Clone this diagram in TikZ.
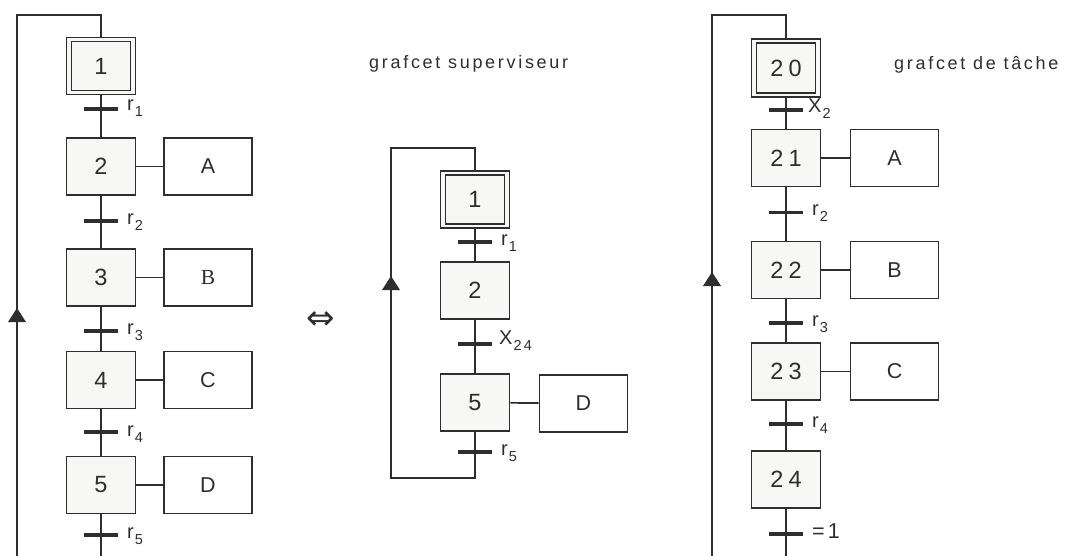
\documentclass[tikz,border=0pt]{standalone}
\usepackage{fontspec}
\setmainfont{Liberation Sans}[LetterSpace=15]
\newfontfamily\numface{Liberation Sans}[LetterSpace=22]
\newfontfamily\serifface{Liberation Serif}
\newfontfamily\symface{DejaVu Sans}
\usetikzlibrary{calc}
\definecolor{ink}{HTML}{2E2E2E}
\definecolor{stepfill}{HTML}{F7F7F5}
% subscript of a receptivity
\newcommand\tsub[1]{\kern1pt\raisebox{-6pt}{\fontsize{14.5}{14.5}\selectfont#1}}

\begin{document}
\begin{tikzpicture}[x=1pt,y=-1pt,
  ln/.style={draw=ink, line width=1.7pt},
  stepbox/.style={draw=ink, line width=1.8pt, fill=stepfill, minimum width=69pt,
    minimum height=57pt, inner sep=0pt, text=ink, font=\numface\fontsize{23.5}{23.5}\selectfont},
  actbox/.style={draw=ink, line width=1.8pt, fill=white, minimum width=88pt,
    minimum height=57pt, inner sep=0pt, text=ink, font=\fontsize{21.5}{21.5}\selectfont},
  tbar/.style={draw=ink, line width=3.6pt},
  tlab/.style={anchor=base west, inner sep=0pt, text=ink, font=\fontsize{20}{20}\selectfont},
  title/.style={anchor=base west, inner sep=0pt, text=ink, font=\fontsize{18}{18}\selectfont},
  arrowhead/.style={fill=ink}
]
\useasboundingbox (0,0) rectangle (1067,556);

% ---------------- linear grafcet ----------------
\node[stepbox] (a1) at (101,66) {1\hspace{2pt}};
\draw[ln] ($(a1.north west)+(6,5)$) rectangle ($(a1.south east)+(-6,-5)$);
\node[stepbox] (a2) at (101,166.5) {2\hspace{2pt}};
\node[stepbox] (a3) at (101,277.5) {3\hspace{2pt}};
\node[stepbox] (a4) at (101,380) {4\hspace{2pt}};
\node[stepbox] (a5) at (101,485) {5\hspace{2pt}};
\node[actbox] (b2) at (208,166.5) {A\hspace{13pt}};
\node[actbox] (b3) at (208,277.5) {{\serifface B}\hspace{13pt}};
\node[actbox] (b4) at (208,380) {C\hspace{16pt}};
\node[actbox] (b5) at (208,485) {D\hspace{16pt}};
\coordinate (ta1) at (101,109);
\coordinate (ta2) at (101,221);
\coordinate (ta3) at (101,331);
\coordinate (ta4) at (101,432);
\coordinate (ta5) at (101,535);
\coordinate (abot) at (101,556);
\coordinate (aloopb) at (17,556);
\coordinate (aloopt) at (17,15);
\coordinate (aarr) at (17,315);

\draw[ln] (a1) -- (a2);
\draw[ln] (a2) -- (a3);
\draw[ln] (a3) -- (a4);
\draw[ln] (a4) -- (a5);
\draw[ln] (a5) -- (abot);
\draw[ln] (a2) -- (b2);
\draw[ln] (a3) -- (b3);
\draw[ln] (a4) -- (b4);
\draw[ln] (a5) -- (b5);
\draw[ln] (aloopb) -- (aloopt) -| (a1.north);
\fill[arrowhead] (aarr) +(0,-7) -- +(-9,7) -- +(9,7) -- cycle;

\foreach \t in {ta1,ta2,ta3,ta4,ta5}
  \draw[tbar] ([xshift=-17pt]\t) -- ([xshift=17pt]\t);
\node[tlab] (la1) at ([xshift=26pt,yshift=-2pt]ta1) {r\tsub{1}};
\node[tlab] (la2) at ([xshift=26pt,yshift=-3pt]ta2) {r\tsub{2}};
\node[tlab] (la3) at ([xshift=26pt,yshift=-3pt]ta3) {r\tsub{3}};
\node[tlab] (la4) at ([xshift=26pt,yshift=-4pt]ta4) {r\tsub{4}};
\node[tlab] (la5) at ([xshift=26pt,yshift=-3pt]ta5) {r\tsub{5}};

\node (eq) at (321,321) {\symface\fontsize{34}{34}\selectfont\color{ink}⇔};

% ---------------- supervisor grafcet ----------------
\node[title] (tsup) at (369,69) {grafcet superviseur};
\node[stepbox] (m1) at (475,199.5) {1\hspace{2pt}};
\draw[ln] ($(m1.north west)+(6,5)$) rectangle ($(m1.south east)+(-6,-5)$);
\node[stepbox] (m2) at (475,290.5) {2\hspace{2pt}};
\node[stepbox] (m5) at (475,402.5) {5\hspace{2pt}};
\node[actbox] (md) at (583.5,403.5) {D\hspace{16pt}};
\coordinate (tm1) at (475,242);
\coordinate (tm2) at (475,344);
\coordinate (tm3) at (475,452);
\coordinate (mbr) at (475,478);
\coordinate (mbl) at (391,478);
\coordinate (mtl) at (391,148);
\coordinate (marr) at (391,283);

\draw[ln] (m1) -- (m2);
\draw[ln] (m2) -- (m5);
\draw[ln] (m5) -- (md);
\draw[ln] (m5) -- (mbr) -- (mbl) -- (mtl) -| (m1.north);
\fill[arrowhead] (marr) +(0,-7) -- +(-9,7) -- +(9,7) -- cycle;
\foreach \t in {tm1,tm2,tm3}
  \draw[tbar] ([xshift=-17pt]\t) -- ([xshift=17pt]\t);
\node[tlab] (lm1) at ([xshift=26pt,yshift=-3pt]tm1) {r\tsub{1}};
\node[tlab] (lm2) at ([xshift=24pt,yshift=0pt]tm2) {X\tsub{24}};
\node[tlab] (lm3) at ([xshift=26pt,yshift=-3pt]tm3) {r\tsub{5}};

% ---------------- task grafcet ----------------
\node[title] (ttache) at (894,70) {grafcet de tâche};
\node[stepbox, minimum height=58pt] (r20) at (786,68) {20\hspace{4pt}};
\draw[ln] ($(r20.north west)+(6,5)$) rectangle ($(r20.south east)+(-6,-5)$);
\node[stepbox] (r21) at (786,158) {21\hspace{4pt}};
\node[stepbox] (r22) at (786,270) {22\hspace{4pt}};
\node[stepbox] (r23) at (786,371.5) {23\hspace{4pt}};
\node[stepbox] (r24) at (786,479.5) {24\hspace{4pt}};
\node[actbox] (c21) at (894.5,158) {A\hspace{10pt}};
\node[actbox] (c22) at (894.5,270) {B\hspace{14pt}};
\node[actbox] (c23) at (894.5,371.5) {C\hspace{18pt}};
\coordinate (tr1) at (786,110);
\coordinate (tr2) at (786,212.5);
\coordinate (tr3) at (786,323);
\coordinate (tr4) at (786,424);
\coordinate (tr5) at (786,534);
\coordinate (rbot) at (786,556);
\coordinate (rloopb) at (712,556);
\coordinate (rloopt) at (712,15);
\coordinate (rarr) at (712,279);

\draw[ln] (r20) -- (r21);
\draw[ln] (r21) -- (r22);
\draw[ln] (r22) -- (r23);
\draw[ln] (r23) -- (r24);
\draw[ln] (r24) -- (rbot);
\draw[ln] (r21) -- (c21);
\draw[ln] (r22) -- (c22);
\draw[ln] (r23) -- (c23);
\draw[ln] (rloopb) -- (rloopt) -| (r20.north);
\fill[arrowhead] (rarr) +(0,-7) -- +(-9,7) -- +(9,7) -- cycle;
\foreach \t in {tr1,tr2,tr3,tr4,tr5}
  \draw[tbar] ([xshift=-17pt]\t) -- ([xshift=17pt]\t);
\node[tlab] (lr1) at ([xshift=22pt,yshift=-3pt]tr1) {X\tsub{2}};
\node[tlab] (lr2) at ([xshift=26pt,yshift=-3pt]tr2) {r\tsub{2}};
\node[tlab] (lr3) at ([xshift=26pt,yshift=-3pt]tr3) {r\tsub{3}};
\node[tlab] (lr4) at ([xshift=26pt,yshift=-3pt]tr4) {r\tsub{4}};
\node[tlab, font=\fontsize{21.5}{21.5}\selectfont] (lr5) at ([xshift=26pt,yshift=-4pt]tr5) {=1};
\end{tikzpicture}
\end{document}
